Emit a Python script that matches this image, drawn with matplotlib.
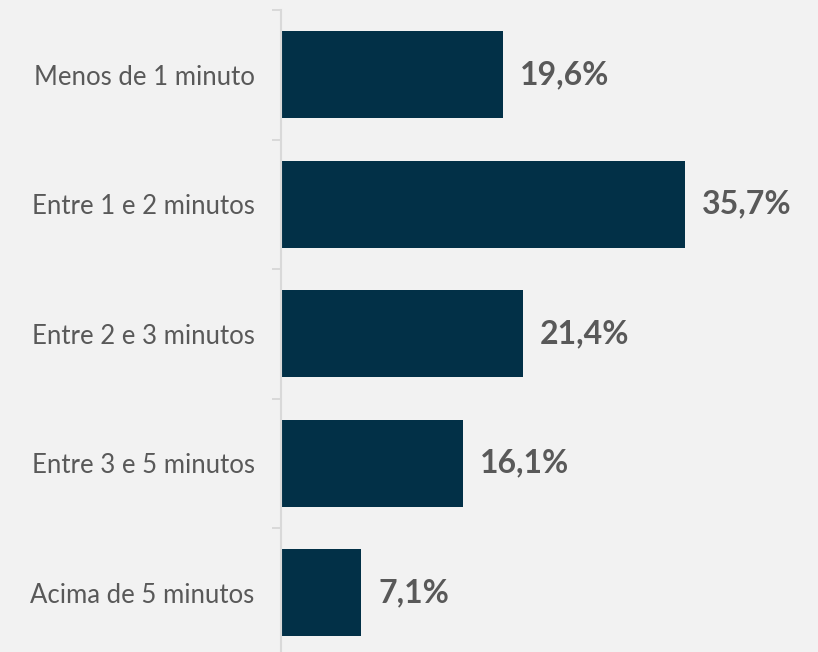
import numpy as np
from matplotlib import pyplot as plt

categories = ["Menos de 1 minuto", "Entre 1 e 2 minutos", "Entre 2 e 3 minutos",
              "Entre 3 e 5 minutos", "Acima de 5 minutos"]
shares = [19.6, 35.7, 21.4, 16.1, 7.1]
labels = ["19,6%", "35,7%", "21,4%", "16,1%", "7,1%"]

bg = "#f2f2f2"
bar_color = "#023047"
text_color = "#595959"
axis_color = "#d9d9d9"

plt.rcParams["font.family"] = ["Lato", "DejaVu Sans"]

W, H = 818, 652
fig = plt.figure(figsize=(W / 100, H / 100), dpi=100, facecolor=bg)
# axes box in pixels: left edge at the axis line, last category runs past the bottom
left, top, bottom = 281, 10, 657.5
ax = fig.add_axes([left / W, (H - bottom) / H, 1 - left / W, (bottom - top) / H])
ax.set_facecolor(bg)

y = np.arange(len(categories))
ax.barh(y, shares, height=0.67, color=bar_color)
ax.set_ylim(len(categories) - 0.5, -0.5)
ax.set_xlim(0, (W - left) / 11.32)

for yi, v, lab in zip(y, shares, labels):
    ax.annotate(lab, (v, yi), xytext=(17, 0), textcoords="offset pixels",
                va="center", ha="left", fontsize=23, fontweight="bold",
                color=text_color)

ax.set_yticks(y)
ax.set_yticklabels(categories, fontsize=18.5, color=text_color)
ax.set_yticks(np.arange(len(categories) + 1) - 0.5, minor=True)
ax.tick_params(axis="y", which="major", length=0, pad=19)
ax.tick_params(axis="y", which="minor", length=6.5, width=1.4, color=axis_color)
ax.set_xticks([])

for s in ["top", "right", "bottom"]:
    ax.spines[s].set_visible(False)
ax.spines["left"].set_color(axis_color)
ax.spines["left"].set_linewidth(1.5)

fig.savefig("out.png", dpi=100, facecolor=bg)
